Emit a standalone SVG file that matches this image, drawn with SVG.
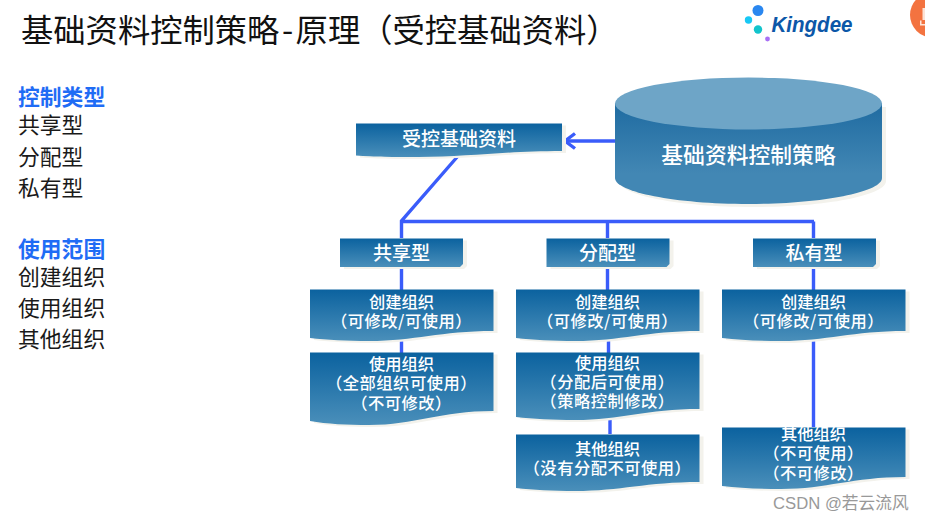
<svg xmlns="http://www.w3.org/2000/svg" width="925" height="522" viewBox="0 0 925 522">
<style>
text{font-family:"Noto Sans CJK SC","Liberation Sans",sans-serif}
.t{font-size:32.3px;fill:#111}
.h{font-size:21.8px;font-weight:700;fill:#1f6cf5}
.l{font-size:21.8px;fill:#1a1a1a}
.w{fill:#fff;font-weight:500;text-anchor:middle}
.s{font-size:16.3px}
.k{letter-spacing:.5px}
.m{font-size:19px}
.b{fill:url(#g)}
.sh{fill:#f3f2ec}
.c{fill:none;stroke:#3a5cfa;stroke-width:3.4}
</style>
<defs>
<linearGradient id="g" x1="0" y1="0" x2="0" y2="1"><stop offset="0" stop-color="#0b629f"/><stop offset="1" stop-color="#4a8fba"/></linearGradient>
<linearGradient id="cy" x1="0" y1="0" x2="0" y2="1"><stop offset="0" stop-color="#1f6ba1"/><stop offset=".7" stop-color="#4287b4"/></linearGradient>
<path id="create" d="M0 0H183.500V41.500C130 41.500 105 51.500 59 51.500C37 51.500 17 50.500 0 48.500Z"/>
<path id="type" d="M0 0H123V25.500L120 28.500H0Z"/>
</defs>
<rect width="925" height="522" fill="#fff"/>
<text class="t" x="21" y="42">基础资料控制策略<tspan dx="2.500">-</tspan><tspan dx="2.500">原理（受控基础资料）</tspan></text>
<g id="logo">
<circle cx="758" cy="10.500" r="5.500" fill="#2a87f0"/><circle cx="748.500" cy="20" r="3.700" fill="#18c8f5"/><circle cx="758" cy="29.500" r="4.200" fill="#12c4cc"/><circle cx="767.500" cy="39" r="2.400" fill="#a870f5"/>
<text x="771.500" y="32" font-size="22" font-weight="700" font-style="italic" fill="#0c57a8" textLength="81" lengthAdjust="spacingAndGlyphs" style="font-family:'Liberation Sans',sans-serif">Kingdee</text>
</g>
<g id="badge"><circle cx="932.500" cy="15" r="22.500" fill="#f37340"/><path d="M922.500 8H925V20H922.500ZM920 20.500H921.500V24H925V25.500H920Z" fill="#fde3d6"/></g>
<g id="legend">
<text class="h" x="18" y="105">控制类型</text>
<text class="l" x="18" y="133">共享型</text>
<text class="l" x="18" y="165">分配型</text>
<text class="l" x="18" y="196">私有型</text>
<text class="h" x="18" y="257">使用范围</text>
<text class="l" x="18" y="285">创建组织</text>
<text class="l" x="18" y="316">使用组织</text>
<text class="l" x="18" y="347">其他组织</text>
</g>
<g id="connectors">
<path class="c" d="M615 141H565"/>
<path class="c" d="M575 133.500L565 141L575 148.500"/>
<path class="c" d="M458 156L401.500 221V238M401.500 221.500H814M607.500 221.500V238M813.500 221.500V238"/>
<path class="c" d="M401.500 267V290M401.500 338V353"/>
<path class="c" d="M607.500 267V290M608.500 338V353M610 418V434"/>
<path class="c" d="M813.500 267V427"/>
</g>
<g id="db">
<path class="sh" d="M619 107V181C619 195 678 207 753 207S886 195 886 181V107Z"/>
<path fill="url(#cy)" d="M615 103V178C615 192 675 204 748.500 204S882 192 882 178V103Z"/>
<ellipse cx="748.500" cy="103.500" rx="133.500" ry="26" fill="#6ea5c7"/>
<text class="w" x="748.500" y="163" font-size="21.800">基础资料控制策略</text>
</g>
<g id="controlled">
<path class="sh" transform="translate(4 2)" d="M356 123.500H562V151C505 151 470 157 418 157C394 157 374 157 356 155.500Z"/>
<path class="b" d="M356 123.500H562V151C505 151 470 157 418 157C394 157 374 157 356 155.500Z"/>
<text class="w m" x="459" y="145.500">受控基础资料</text>
</g>
<g id="type1">
<use href="#type" class="sh" x="344" y="240.500"/><use href="#type" class="b" x="340" y="238.500"/>
<text class="w m" x="401.500" y="259.500">共享型</text>
</g>
<g id="type2">
<use href="#type" class="sh" x="550.500" y="240.500"/><use href="#type" class="b" x="546.500" y="238.500"/>
<text class="w m" x="607.500" y="259.500">分配型</text>
</g>
<g id="type3">
<use href="#type" class="sh" x="757" y="240.500"/><use href="#type" class="b" x="753" y="238.500"/>
<text class="w m" x="814" y="259.500">私有型</text>
</g>
<g id="c1a">
<use href="#create" class="sh" x="314" y="291.500"/><use href="#create" class="b" x="310" y="289.500"/>
<text class="w s" x="401.500" y="307.500">创建组织</text><text class="w s k" x="401.500" y="327">（可修改/可使用）</text>
</g>
<g id="c1b">
<path class="sh" transform="translate(4 2)" d="M310 352.500H493.500V411C440 411 415 425 369 425C347 425 327 424 310 421Z"/>
<path class="b" d="M310 352.500H493.500V411C440 411 415 425 369 425C347 425 327 424 310 421Z"/>
<text class="w s" x="401.500" y="369.500">使用组织</text><text class="w s k" x="401.500" y="389">（全部组织可使用）</text><text class="w s k" x="401.500" y="408.500">（不可修改）</text>
</g>
<g id="c2a">
<use href="#create" class="sh" x="520" y="291.500"/><use href="#create" class="b" x="516" y="289.500"/>
<text class="w s" x="607.500" y="307.500">创建组织</text><text class="w s k" x="607.500" y="327">（可修改/可使用）</text>
</g>
<g id="c2b">
<path class="sh" transform="translate(4 2)" d="M516 352.500H699.500V409C646 409 621 420 575 420C553 420 533 419 516 417Z"/>
<path class="b" d="M516 352.500H699.500V409C646 409 621 420 575 420C553 420 533 419 516 417Z"/>
<text class="w s" x="607.500" y="368.500">使用组织</text><text class="w s k" x="607.500" y="387.500">（分配后可使用）</text><text class="w s k" x="607.500" y="407">（策略控制修改）</text>
</g>
<g id="c2c">
<path class="sh" transform="translate(4 2)" d="M516 434.500H699.500V482C646 482 621 491 575 491C553 491 533 490 516 488Z"/>
<path class="b" d="M516 434.500H699.500V482C646 482 621 491 575 491C553 491 533 490 516 488Z"/>
<text class="w s" x="607.500" y="455">其他组织</text><text class="w s k" x="607.500" y="474">（没有分配不可使用）</text>
</g>
<g id="c3a">
<use href="#create" class="sh" x="726" y="291.500"/><use href="#create" class="b" x="722" y="289.500"/>
<text class="w s" x="813.500" y="307.500">创建组织</text><text class="w s k" x="813.500" y="327">（可修改/可使用）</text>
</g>
<g id="c3b">
<path class="sh" transform="translate(4 2)" d="M722 427.500H905.500V477C852 477 827 489 781 489C759 489 739 488 722 486Z"/>
<path class="b" d="M722 427.500H905.500V477C852 477 827 489 781 489C759 489 739 488 722 486Z"/>
<text class="w s" x="813.500" y="439.500">其他组织</text><text class="w s k" x="813.500" y="459">（不可使用）</text><text class="w s k" x="813.500" y="479">（不可修改）</text>
</g>
<text x="773" y="509" font-size="16.700" fill="#999" style="font-family:'Liberation Sans','Noto Sans CJK SC',sans-serif">CSDN @若云流风</text>
</svg>
